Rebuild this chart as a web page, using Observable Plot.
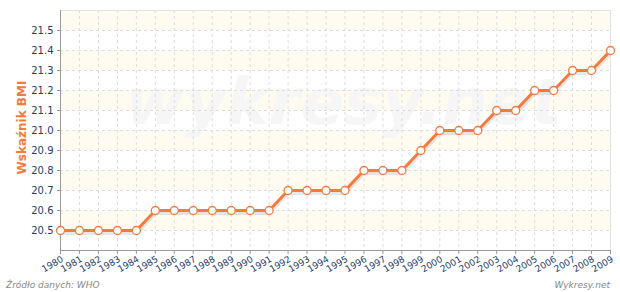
<!DOCTYPE html>
<html><head><meta charset="utf-8">
<script src="https://cdn.jsdelivr.net/npm/d3@7"></script>
<script src="https://cdn.jsdelivr.net/npm/@observablehq/plot@0.6"></script>
<style>
body{margin:0;background:#fff;font-family:"DejaVu Sans",sans-serif;}
#wrap{position:relative;width:620px;height:292px;}
.foot{position:absolute;font-style:italic;font-size:9px;color:#888;}
</style></head><body>
<div id="wrap"></div>
<script>
const years = [1980,1981,1982,1983,1984,1985,1986,1987,1988,1989,1990,1991,1992,1993,1994,1995,1996,1997,1998,1999,2000,2001,2002,2003,2004,2005,2006,2007,2008,2009];
const bmi = [20.5,20.5,20.5,20.5,20.5,20.6,20.6,20.6,20.6,20.6,20.6,20.6,20.7,20.7,20.7,20.7,20.8,20.8,20.8,20.9,21.0,21.0,21.0,21.1,21.1,21.2,21.2,21.3,21.3,21.4];
const yTicks = [20.5,20.6,20.7,20.8,20.9,21.0,21.1,21.2,21.3,21.4,21.5];
const bandStarts = [20.5,20.7,20.9,21.1,21.3,21.5];
const yLabel = "Wskaźnik BMI";
const source = "Źródło danych:  WHO";
const brand = "Wykresy.net";
const watermark = "wykresy.net";

const data = years.map((y,i)=>({year:y, v:bmi[i]}));
const bands = bandStarts.map(b=>({y1:b, y2:+(b+0.1).toFixed(1)}));
const navy = "#1f3d6b";
const orange = "#f47a3e";

const chart = Plot.plot({
  width:620, height:292,
  marginTop:10, marginRight:10, marginBottom:42, marginLeft:60,
  style:{fontFamily:"DejaVu Sans, sans-serif", background:"#fff", overflow:"visible"},
  x:{type:"linear", domain:[1980,2009], axis:null},
  y:{type:"linear", domain:[20.4,21.6], axis:null},
  marks:[
    Plot.rectY(bands,{x1:()=>1980,x2:()=>2009,y1:"y1",y2:"y2",fill:"#fffbf0"}),
    Plot.text([watermark],{frameAnchor:"middle", textAnchor:"middle", dx:8, dy:-27, text:d=>d, fontSize:64, fontWeight:"bold", fontStyle:"italic", fill:"#f6f6f6"}),
    Plot.gridX(years,{stroke:"#ddd", strokeOpacity:1, strokeDasharray:"3,3"}),
    Plot.gridY(yTicks,{stroke:"#ddd", strokeOpacity:1, strokeDasharray:"3,3"}),
    Plot.ruleY([21.6],{stroke:"#e2e2e2"}),
    Plot.ruleX([2009],{stroke:"#e2e2e2"}),
    Plot.ruleX([1980],{stroke:"#999"}),
    Plot.ruleY([20.4],{stroke:"#999"}),
    Plot.axisY(yTicks,{ticks:yTicks, tickFormat:d=>d.toFixed(1), tickSize:3, stroke:"#999", fill:navy, fontSize:10, tickPadding:4, label:null}),
    Plot.axisX(years,{ticks:years, tickFormat:()=>"", tickSize:4, stroke:"#999", label:null}),
    Plot.text(years,{x:d=>d, frameAnchor:"bottom", text:d=>String(d), textAnchor:"end", lineAnchor:"middle", rotate:-30, dx:2, dy:8, fill:navy, fontSize:9}),
    Plot.line(data,{x:"year", y:"v", stroke:"#000", strokeOpacity:0.09, strokeWidth:4, dy:2.5}),
    Plot.line(data,{x:"year", y:"v", stroke:orange, strokeWidth:3}),
    Plot.dot(data,{x:"year", y:"v", r:4, fill:"#fff", stroke:orange, strokeWidth:1.3}),
    Plot.text([yLabel],{frameAnchor:"left", textAnchor:"middle", dx:-38, dy:-3, text:d=>d, rotate:-90, fill:orange, fontWeight:"bold", fontSize:12})
  ]
});
const wrap = document.getElementById("wrap");
wrap.appendChild(chart);
const s = document.createElement("div"); s.className="foot"; s.textContent=source; s.style.left="6px"; s.style.top="280px"; wrap.appendChild(s);
const b = document.createElement("div"); b.className="foot"; b.textContent=brand; b.style.right="10px"; b.style.top="280px"; wrap.appendChild(b);
</script>
</body></html>
